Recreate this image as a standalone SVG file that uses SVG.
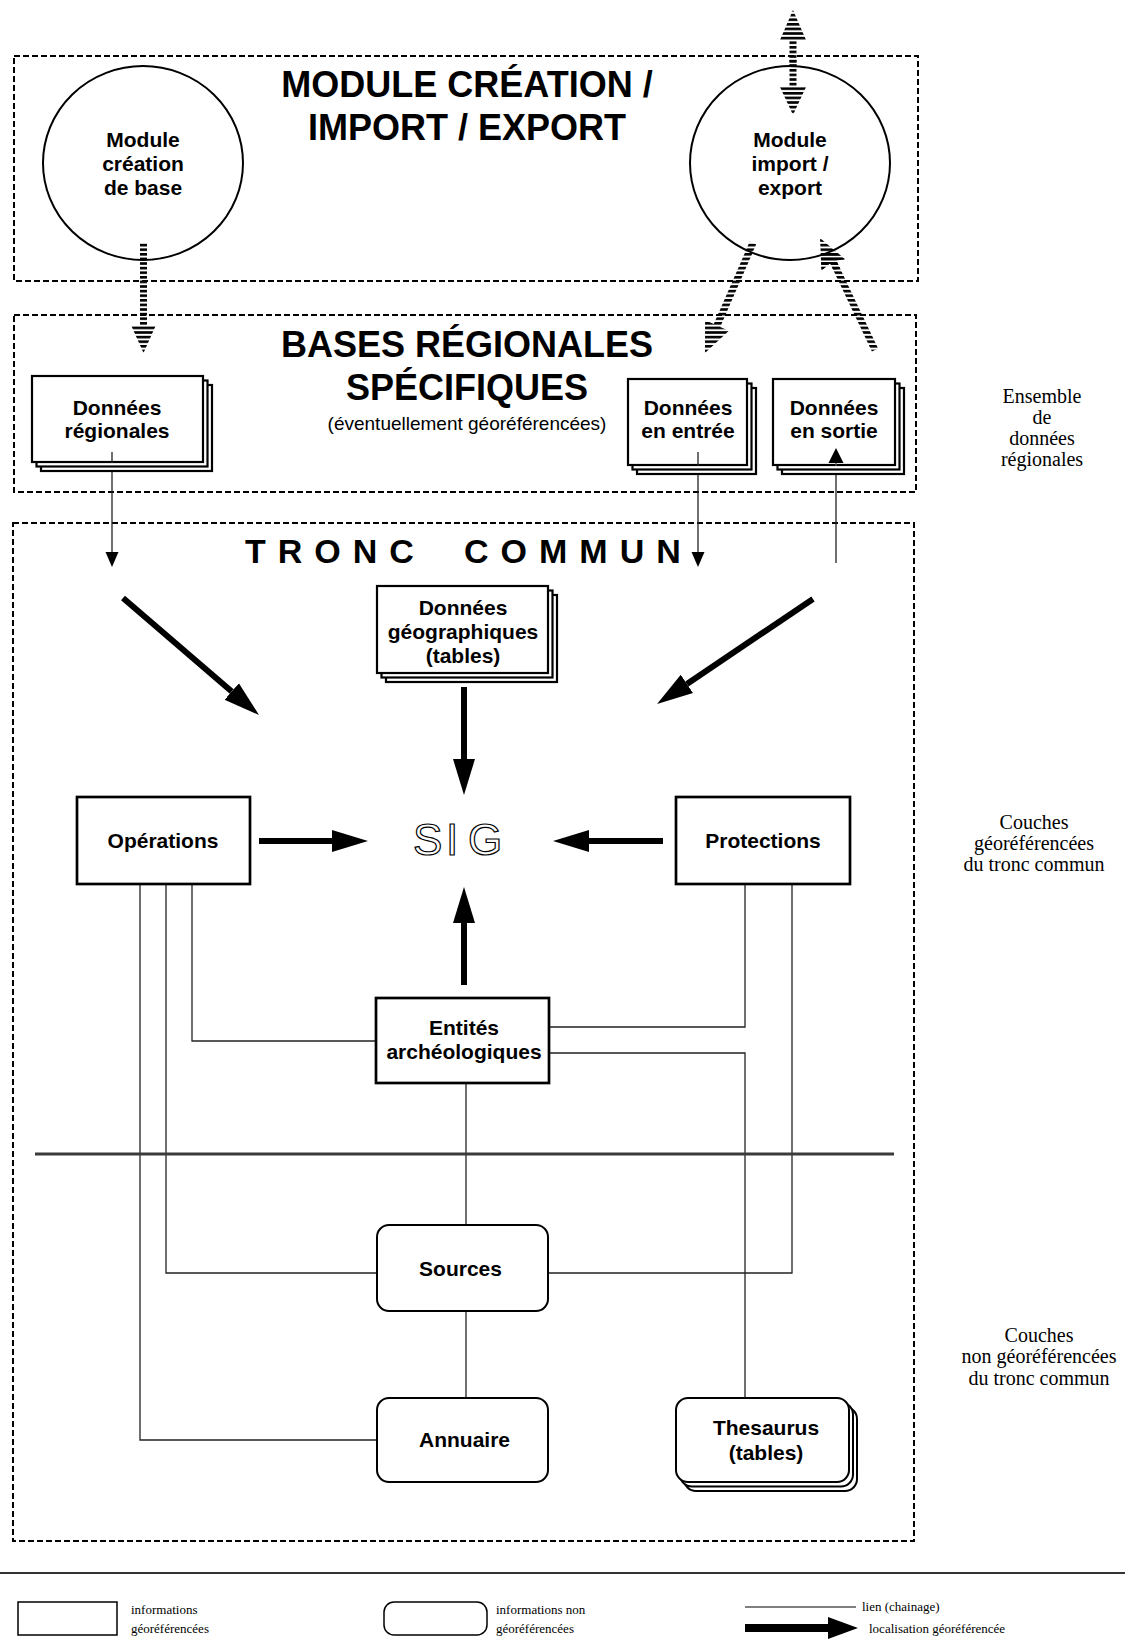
<svg xmlns="http://www.w3.org/2000/svg" width="1125" height="1641" viewBox="0 0 1125 1641">
<defs>
<style>
.frame{fill:none;stroke:#000;stroke-width:2;stroke-dasharray:6 3}
.box{fill:#fff;stroke:#000;stroke-width:2.7}
.stk{fill:#fff;stroke:#000;stroke-width:2.2}
.rbox{fill:#fff;stroke:#000;stroke-width:2}
.circ{fill:#fff;stroke:#000;stroke-width:2}
.lbl{font-family:"Liberation Sans",Arial,sans-serif;font-weight:bold;font-size:21px;text-anchor:middle;fill:#000}
.title{font-family:"Liberation Sans",Arial,sans-serif;font-weight:bold;font-size:36px;text-anchor:middle;fill:#000}
.sub{font-family:"Liberation Sans",Arial,sans-serif;font-size:19px;text-anchor:middle;fill:#000}
.side{font-family:"Liberation Serif","Times New Roman",serif;font-size:20px;text-anchor:middle;fill:#000}
.leg{font-family:"Liberation Serif","Times New Roman",serif;font-size:13px;fill:#000}
.link{fill:none;stroke:#222;stroke-width:1.3}
.thin{fill:none;stroke:#222;stroke-width:1.3;marker-end:url(#thin)}
.thick{fill:none;stroke:#000;stroke-width:6;marker-end:url(#big)}
.striped{fill:url(#stripes)}
</style>
<pattern id="stripes" patternUnits="userSpaceOnUse" width="8" height="4.6"><rect width="8" height="2.6" fill="#000"/></pattern>
<marker id="thin" markerUnits="userSpaceOnUse" markerWidth="16" markerHeight="14" refX="0" refY="7" orient="auto"><path d="M0,0.5 L15,7 L0,13.5 z" fill="#000"/></marker>
<marker id="big" markerUnits="userSpaceOnUse" markerWidth="37" markerHeight="24" refX="0" refY="12" orient="auto"><path d="M0,1 L36,12 L0,23 z" fill="#000"/></marker>
</defs>
<rect width="1125" height="1641" fill="#fff"/>

<g id="frames">
<rect class="frame" x="14" y="56" width="904" height="225"/>
<rect class="frame" x="14" y="315" width="902" height="177"/>
<rect class="frame" x="13" y="523" width="901" height="1018"/>
</g>

<g id="titles">
<text class="title" x="467" y="97">MODULE CRÉATION /</text>
<text class="title" x="467" y="140">IMPORT / EXPORT</text>
<text class="title" x="467" y="357">BASES RÉGIONALES</text>
<text class="title" x="467" y="400">SPÉCIFIQUES</text>
<text class="sub" x="467" y="430">(éventuellement géoréférencées)</text>
<text x="245" y="563" font-family="Liberation Sans, Arial, sans-serif" font-weight="bold" font-size="34" letter-spacing="12">TRONC<tspan x="464">COMMUN</tspan></text>
</g>

<g id="side-labels">
<text class="side" x="1042" y="403">Ensemble</text>
<text class="side" x="1042" y="424">de</text>
<text class="side" x="1042" y="445">données</text>
<text class="side" x="1042" y="466">régionales</text>
<text class="side" x="1034" y="829">Couches</text>
<text class="side" x="1034" y="850">géoréférencées</text>
<text class="side" x="1034" y="871">du tronc commun</text>
<text class="side" x="1039" y="1342">Couches</text>
<text class="side" x="1039" y="1363">non géoréférencées</text>
<text class="side" x="1039" y="1385">du tronc commun</text>
</g>

<g id="connectors">
<polygon class="striped" points="140,243 147,243 147,325 156,325 143.5,353 131,325 140,325"/>
<polygon class="striped" points="793,10 806,40 796.5,40 796.5,87 806,87 793,115 780,87 789.5,87 789.5,40 780,40"/>
<polygon class="striped" points="756.2,244.4 720.2,326.9 728.9,330.7 705,353 705.1,320.3 713.8,324.1 749.8,241.6"/>
<polygon class="striped" points="820,238 844.9,259.2 836.3,260.6 878.1,348.5 871.9,351.5 830.1,263.2 821.5,270.6"/>
<line class="thin" x1="112" y1="452" x2="112" y2="552"/>
<line class="thin" x1="698" y1="452" x2="698" y2="552"/>
<line class="link" x1="836" y1="563" x2="836" y2="463" stroke="#555"/>
<line class="thick" x1="464" y1="687" x2="464" y2="759"/>
<line class="thick" x1="259" y1="841" x2="332" y2="841"/>
<line class="thick" x1="663" y1="841" x2="589" y2="841"/>
<line class="thick" x1="464" y1="985" x2="464" y2="923"/>
<line class="thick" x1="123" y1="598" x2="231.7" y2="691.5"/>
<line class="thick" x1="813" y1="599" x2="686.9" y2="683.9"/>
<path class="link" d="M192,884 V1041 H376"/>
<path class="link" d="M166,884 V1273 H377"/>
<path class="link" d="M140,884 V1440 H377"/>
<path class="link" d="M745,884 V1027 H549"/>
<path class="link" d="M549,1053 H745 V1398"/>
<path class="link" d="M792,884 V1273 H548"/>
<path class="link" d="M466,1083 V1225"/>
<path class="link" d="M466,1311 V1398"/>
<line x1="35" y1="1154" x2="894" y2="1154" stroke="#3a3a3a" stroke-width="3"/>
</g>

<g id="module-creation">
<ellipse class="circ" cx="143" cy="163" rx="100" ry="97"/>
<text class="lbl" x="143" y="147">Module</text>
<text class="lbl" x="143" y="171">création</text>
<text class="lbl" x="143" y="195">de base</text>
</g>
<g id="module-import">
<ellipse class="circ" cx="790" cy="163" rx="100" ry="97"/>
<text class="lbl" x="790" y="147">Module</text>
<text class="lbl" x="790" y="171">import /</text>
<text class="lbl" x="790" y="195">export</text>
</g>
<g id="striped-over">
<polygon class="striped" points="140,243 147,243 147,262 140,262"/>
<polygon class="striped" points="793,60 796.5,60 796.5,87 806,87 793,115 780,87 789.5,87 789.5,60"/>
<polygon class="striped" points="756.2,244.4 749.8,241.6 745,252 751.4,254.8"/>
<polygon class="striped" points="820,238 844.9,259.2 836.3,260.6 840,268 833.8,271 830.1,263.2 821.5,270.6"/>
</g>

<g id="donnees-regionales">
<rect class="stk" x="41" y="385" width="171" height="86"/>
<rect class="stk" x="36.5" y="380.5" width="171" height="86"/>
<rect class="stk" x="32" y="376" width="171" height="86"/>
<text class="lbl" x="117" y="415">Données</text>
<text class="lbl" x="117" y="438">régionales</text>
</g>
<g id="donnees-entree">
<rect class="stk" x="637" y="388" width="119" height="86"/>
<rect class="stk" x="632.5" y="383.5" width="119" height="86"/>
<rect class="stk" x="628" y="379" width="119" height="86"/>
<text class="lbl" x="688" y="415">Données</text>
<text class="lbl" x="688" y="438">en entrée</text>
</g>
<g id="donnees-sortie">
<rect class="stk" x="782" y="388" width="122" height="86"/>
<rect class="stk" x="777.5" y="383.5" width="122" height="86"/>
<rect class="stk" x="773" y="379" width="122" height="86"/>
<text class="lbl" x="834" y="415">Données</text>
<text class="lbl" x="834" y="438">en sortie</text>
</g>
<g id="arrows-inside">
<line class="link" x1="112" y1="452" x2="112" y2="463"/>
<line class="link" x1="698" y1="452" x2="698" y2="466"/>
<line x1="836" y1="466" x2="836" y2="462" stroke="#555" stroke-width="1.3"/>
<path d="M836,448 L843.5,463 L828.5,463 z" fill="#000"/>
</g>

<g id="donnees-geo">
<rect class="stk" x="386" y="595" width="171" height="87"/>
<rect class="stk" x="381.5" y="590.5" width="171" height="87"/>
<rect class="stk" x="377" y="586" width="171" height="87"/>
<text class="lbl" x="463" y="615">Données</text>
<text class="lbl" x="463" y="639">géographiques</text>
<text class="lbl" x="463" y="663">(tables)</text>
</g>

<g id="sig">
<text x="413 446 468" y="855" font-family="Liberation Sans, Arial, sans-serif" font-size="44" fill="#fff" stroke="#000" stroke-width="1.2">SIG</text>
</g>

<g id="operations">
<rect class="box" x="77" y="797" width="173" height="87"/>
<text class="lbl" x="163" y="848">Opérations</text>
</g>
<g id="protections">
<rect class="box" x="676" y="797" width="174" height="87"/>
<text class="lbl" x="763" y="848">Protections</text>
</g>
<g id="entites">
<rect class="box" x="376" y="998" width="173" height="85"/>
<text class="lbl" x="464" y="1035">Entités</text>
<text class="lbl" x="464" y="1059">archéologiques</text>
</g>
<g id="sources">
<rect class="rbox" x="377" y="1225" width="171" height="86" rx="12"/>
<text class="lbl" x="460.5" y="1276">Sources</text>
</g>
<g id="annuaire">
<rect class="rbox" x="377" y="1398" width="171" height="84" rx="12"/>
<text class="lbl" x="464.5" y="1447">Annuaire</text>
</g>
<g id="thesaurus">
<rect class="rbox" x="684" y="1407" width="173" height="84" rx="12"/>
<rect class="rbox" x="680" y="1402.5" width="173" height="84" rx="12"/>
<rect class="rbox" x="676" y="1398" width="173" height="84" rx="12"/>
<text class="lbl" x="766" y="1435">Thesaurus</text>
<text class="lbl" x="766" y="1460">(tables)</text>
</g>

<g id="legend">
<line x1="0" y1="1573" x2="1125" y2="1573" stroke="#333" stroke-width="2"/>
<rect x="18" y="1602" width="99" height="33" fill="#fff" stroke="#000" stroke-width="1.5"/>
<text class="leg" x="131" y="1614">informations</text>
<text class="leg" x="131" y="1633">géoréférencées</text>
<rect x="384" y="1602" width="103" height="33" rx="10" fill="#fff" stroke="#000" stroke-width="1.5"/>
<text class="leg" x="496" y="1614">informations non</text>
<text class="leg" x="496" y="1633">géoréférencées</text>
<line x1="745" y1="1607" x2="856" y2="1607" stroke="#555" stroke-width="1.3"/>
<text class="leg" x="862" y="1611">lien (chainage)</text>
<polygon points="745,1624 828,1624 828,1617 858,1628 828,1639 828,1632 745,1632" fill="#000"/>
<text class="leg" x="869" y="1633">localisation géoréférencée</text>
</g>
</svg>
